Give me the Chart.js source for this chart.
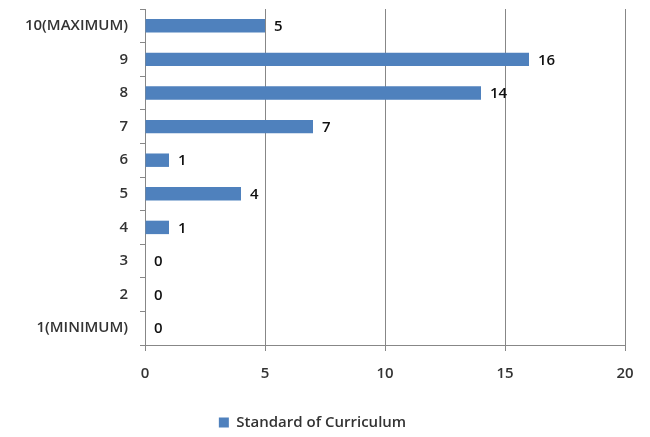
<!DOCTYPE html>
<html>
<head>
<meta charset="utf-8">
<script src="https://cdn.jsdelivr.net/npm/chart.js@4.4.0/dist/chart.umd.min.js"></script>
<style>
  html, body { margin: 0; padding: 0; background: #fff; }
  #wrap { width: 650px; height: 437px; }
</style>
</head>
<body>
<div id="wrap"><canvas id="barChart"></canvas></div>
<script>
// categorias (de cima para baixo) e valores
const categories = ["10(MAXIMUM)", "9", "8", "7", "6", "5", "4", "3", "2", "1(MINIMUM)"];
const curriculumValues = [5, 16, 14, 7, 1, 4, 1, 0, 0, 0];
const xTicks = [0, 5, 10, 15, 20];

const FONT = "'Open Sans', 'DejaVu Sans', sans-serif";
const GRID = "#878787";

// rótulos de valor à direita das barras
const valueLabels = {
  id: "valueLabels",
  afterDatasetsDraw(chart) {
    const ctx = chart.ctx;
    ctx.save();
    ctx.font = "600 15px " + FONT;
    ctx.fillStyle = "#111";
    ctx.textAlign = "left";
    ctx.textBaseline = "middle";
    chart.getDatasetMeta(0).data.forEach((bar, i) => {
      ctx.fillText(curriculumValues[i], bar.x + 9, bar.y + 1);
    });
    ctx.restore();
  },
};

const config = {
  type: "bar",
  data: {
    labels: categories,
    datasets: [
      {
        label: "Standard of Curriculum",
        data: curriculumValues,
        backgroundColor: "#4F81BD",
        categoryPercentage: 0.8,
        barPercentage: 0.5,
      },
    ],
  },
  options: {
    indexAxis: "y",
    responsive: true,
    maintainAspectRatio: false,
    animation: false,
    layout: { padding: { top: 9, right: 25, left: 0, bottom: -3 } },
    scales: {
      x: {
        min: 0,
        max: 20,
        afterBuildTicks(scale) {
          scale.ticks = xTicks.map((v) => ({ value: v }));
        },
        afterFit(scale) {
          scale.height = 60;
          scale.paddingLeft = 0;
          scale.paddingRight = 0;
        },
        grid: { color: GRID, lineWidth: 1, tickLength: 6 },
        border: { color: GRID, width: 1 },
        ticks: { color: "#333", font: { family: FONT, size: 15, weight: 600 }, padding: 14 },
      },
      y: {
        afterFit(scale) {
          scale.width = 145;
          scale.paddingTop = 0;
          scale.paddingBottom = 0;
        },
        grid: { drawOnChartArea: false, color: GRID, tickLength: 5 },
        border: { color: GRID, width: 1 },
        ticks: { color: "#333", font: { family: FONT, size: 15, weight: 600 }, padding: 12 },
      },
    },
    plugins: {
      legend: {
        position: "bottom",
        labels: {
          boxWidth: 10,
          boxHeight: 10,
          padding: 10,
          color: "#333",
          font: { family: FONT, size: 15, weight: 600 },
        },
      },
      tooltip: { enabled: false },
    },
  },
  plugins: [valueLabels],
};

new Chart(document.getElementById("barChart"), config);
</script>
</body>
</html>
